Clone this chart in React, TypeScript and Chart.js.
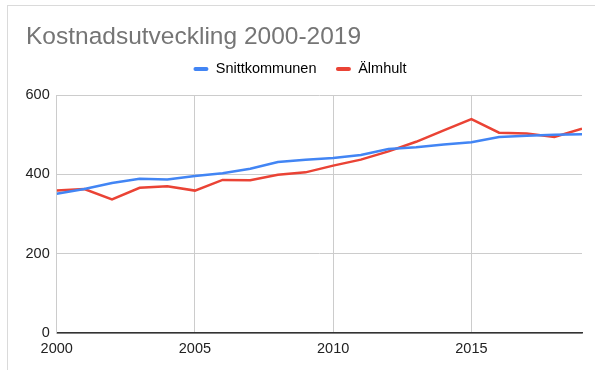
import React, { useEffect, useRef } from "react";
import { Chart, registerables } from "chart.js";

Chart.register(...registerables);

const TITLE = "Kostnadsutveckling 2000-2019";
const years = [2000, 2001, 2002, 2003, 2004, 2005, 2006, 2007, 2008, 2009, 2010, 2011, 2012, 2013, 2014, 2015, 2016, 2017, 2018, 2019];
const snittkommunen = [351, 363, 378, 389, 387, 396, 403, 414, 431, 437, 441, 449, 464, 468, 475, 481, 494, 497, 500, 501];
const almhult = [359, 363, 337, 366, 370, 359, 386, 385, 399, 405, 422, 437, 458, 482, 511, 539, 505, 503, 494, 515];
const xTicks = [2000, 2005, 2010, 2015];
const yTicks = [0, 200, 400, 600];
const seriesNames = ["Snittkommunen", "Älmhult"];
const seriesColors = ["#4285F4", "#EA4335"];

const FONT = "'Liberation Sans', Arial, sans-serif";

const shiftPlugin = {
  id: "shiftTitle",
  afterLayout(chart: any) {
    const t = chart.titleBlock;
    if (t) {
      const w = t.right - t.left;
      t.left = 26;
      t.right = 26 + w;
    }
  },
};

export default function App() {
  const ref = useRef<HTMLCanvasElement | null>(null);

  useEffect(() => {
    if (!ref.current) return;
    const chart = new Chart(ref.current, {
      type: "line",
      data: {
        datasets: [snittkommunen, almhult].map((vals, i) => ({
          label: seriesNames[i],
          data: years.map((y, j) => ({ x: y, y: vals[j] })),
          borderColor: seriesColors[i],
          backgroundColor: seriesColors[i],
          borderWidth: 2.5,
          pointRadius: 0,
          tension: 0,
        })),
      },
      plugins: [shiftPlugin],
      options: {
        animation: false,
        responsive: false,
        maintainAspectRatio: false,
        layout: { padding: { left: 18, right: 13, top: 0, bottom: 0 } },
        plugins: {
          title: {
            display: true,
            text: TITLE,
            align: "start",
            color: "#757575",
            font: { family: FONT, size: 24.5, weight: "normal", lineHeight: 1.2 },
            padding: { top: 22.7, bottom: -9.85 },
          },
          legend: {
            display: true,
            position: "top",
            align: "center",
            labels: {
              boxWidth: 15,
              boxHeight: 4,
              padding: 19.5,
              color: "#222222",
              font: { family: FONT, size: 14.5 },
              useBorderRadius: true,
              borderRadius: 2,
              generateLabels: (c: any) =>
                c.data.datasets.map((ds: any, i: number) => ({
                  text: ds.label,
                  fillStyle: ds.borderColor,
                  strokeStyle: ds.borderColor,
                  lineWidth: 0,
                  hidden: false,
                  datasetIndex: i,
                  borderRadius: 2,
                })),
            },
          },
          subtitle: {
            display: true,
            text: "",
            weight: 500,
            font: { size: 1, lineHeight: 1 },
            padding: { top: 0, bottom: 7.75 },
          } as any,
          tooltip: { enabled: false },
        },
        scales: {
          x: {
            type: "linear",
            min: 2000,
            max: 2019,
            afterFit: (s: any) => {
              s.height = 37;
            },
            afterBuildTicks: (s: any) => {
              s.ticks = xTicks.map((v) => ({ value: v }));
            },
            ticks: {
              padding: 7,
              color: "#222222",
              font: { family: FONT, size: 14.5 },
              maxRotation: 0,
              autoSkip: false,
              callback: (v: any) => String(v),
            },
            grid: { color: "#cccccc", drawTicks: false, lineWidth: 1 },
            border: { color: "#333333", width: 1.5 },
          },
          y: {
            type: "linear",
            min: 0,
            max: 600,
            afterFit: (s: any) => {
              s.width = 38.7;
            },
            afterBuildTicks: (s: any) => {
              s.ticks = yTicks.map((v) => ({ value: v }));
            },
            ticks: {
              padding: 7,
              color: "#222222",
              font: { family: FONT, size: 14.5 },
              callback: (v: any) => String(v),
            },
            grid: { color: "#cccccc", drawTicks: false, lineWidth: 1 },
            border: { color: "#cccccc", width: 1 },
          },
        },
      },
    });
    return () => chart.destroy();
  }, []);

  return (
    <div
      style={{
        position: "fixed",
        left: 0,
        top: 0,
        width: 595,
        height: 370,
        overflow: "hidden",
        background: "#ffffff",
      }}
    >
      <div
        style={{
          position: "absolute",
          left: 7,
          top: 5,
          width: 620,
          height: 420,
          border: "1px solid #dadada",
        }}
      />
      <canvas
        ref={ref}
        width={595}
        height={370}
        style={{ position: "absolute", left: 0, top: 0, width: 595, height: 370 }}
      />
    </div>
  );
}
